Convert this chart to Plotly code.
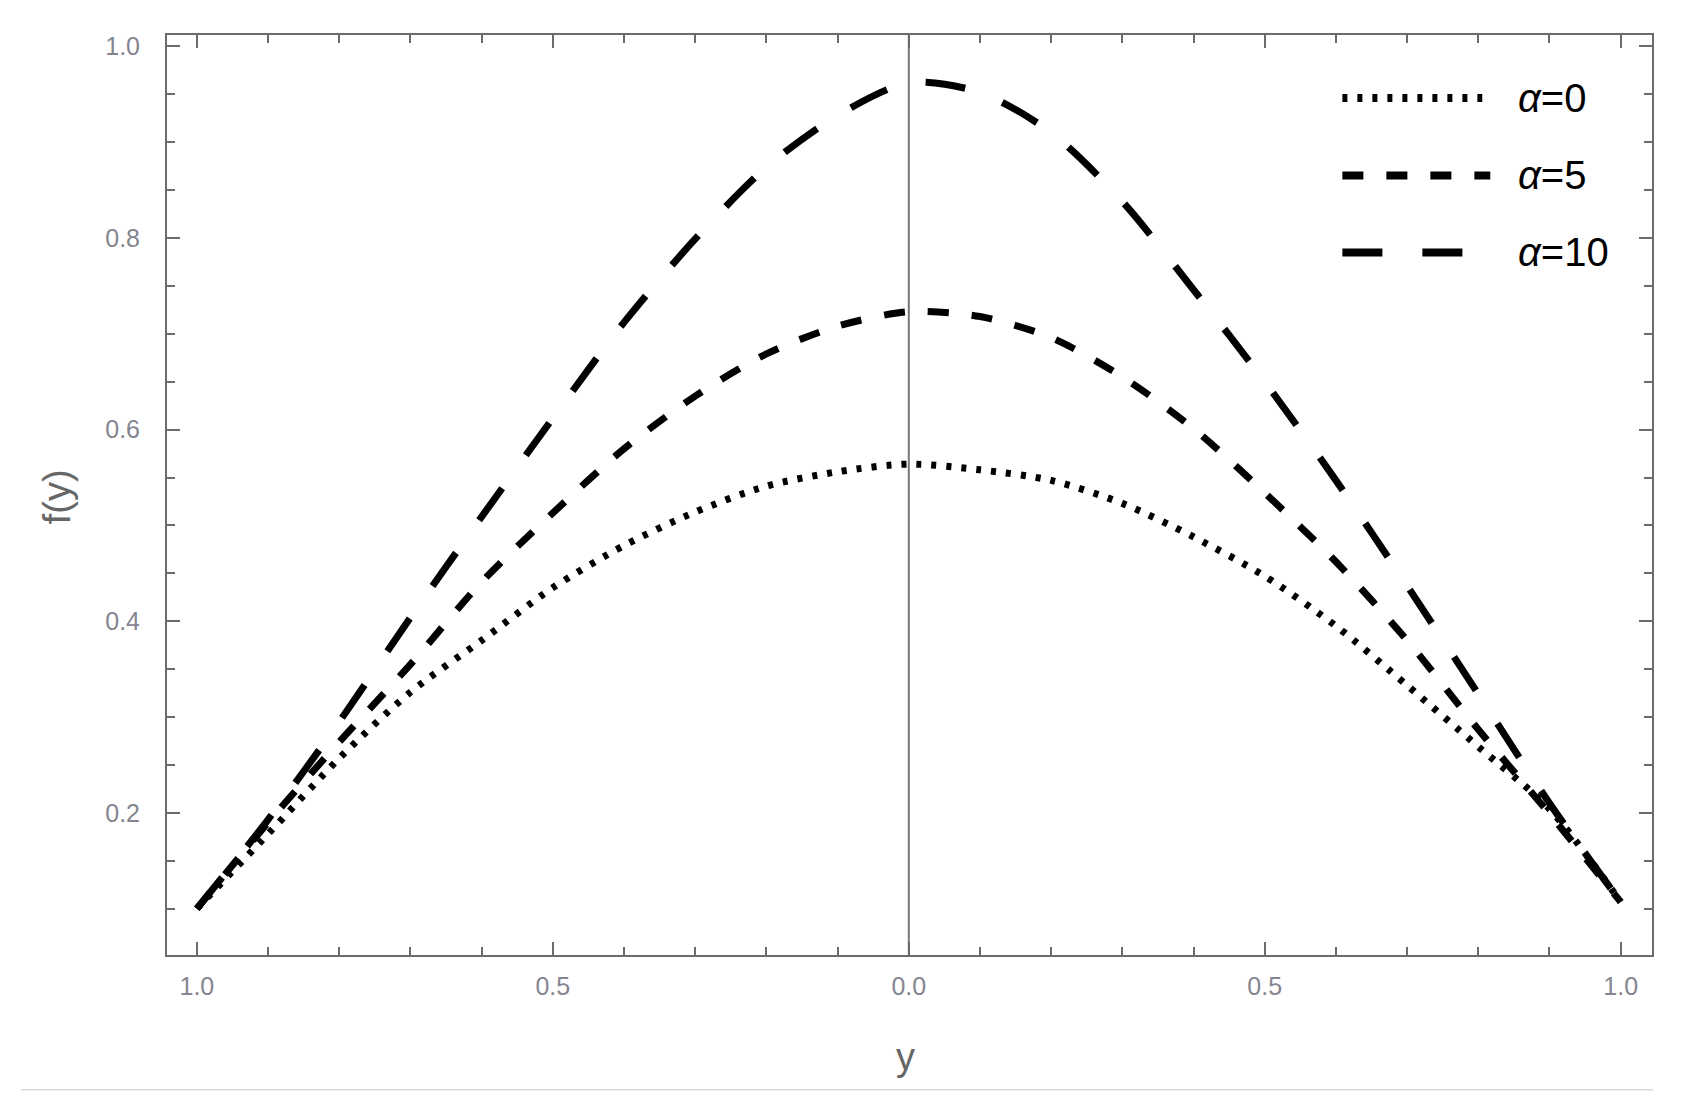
"""
f(y) profiles for three alpha values — Mathematica-style framed plot.
"""

import plotly.graph_objects as go

# --- data ---
Y_POS = [-1.0, -0.9, -0.8, -0.7, -0.6, -0.5, -0.4, -0.3, -0.2, -0.1,
         0.0, 0.1, 0.2, 0.3, 0.4, 0.5, 0.6, 0.7, 0.8, 0.9, 1.0]

F_ALPHA0 = [0.100, 0.178, 0.257, 0.326, 0.380, 0.435, 0.479, 0.514, 0.541, 0.556,
            0.564, 0.558, 0.547, 0.523, 0.488, 0.447, 0.395, 0.333, 0.269, 0.204, 0.107]
F_ALPHA5 = [0.100, 0.190, 0.274, 0.355, 0.441, 0.513, 0.580, 0.635, 0.679, 0.708,
            0.723, 0.718, 0.696, 0.655, 0.601, 0.534, 0.462, 0.380, 0.287, 0.199, 0.107]
F_ALPHA10 = [0.100, 0.193, 0.295, 0.404, 0.509, 0.612, 0.712, 0.799, 0.874, 0.928,
             0.962, 0.952, 0.910, 0.838, 0.746, 0.650, 0.547, 0.437, 0.324, 0.210, 0.107]

SERIES_LABELS = ["<i>α</i>=0", "<i>α</i>=5", "<i>α</i>=10"]

X_TICKS = [-1.0, -0.5, 0.0, 0.5, 1.0]
X_TICK_TEXT = ["1.0", "0.5", "0.0", "0.5", "1.0"]
Y_TICKS = [0.2, 0.4, 0.6, 0.8, 1.0]
Y_TICK_TEXT = ["0.2", "0.4", "0.6", "0.8", "1.0"]

# --- style ---
FRAME = "#6b6b6b"
TICK_TEXT = "#858590"
TITLE_TEXT = "#666666"
FONT = "Liberation Sans, Arial, sans-serif"
LINE_W = 7
DASHES = ["5px,10px", "21px,23px", "40px,40px"]

fig = go.Figure()

for vals, label, dash in zip((F_ALPHA0, F_ALPHA5, F_ALPHA10), SERIES_LABELS, DASHES):
    fig.add_trace(
        go.Scatter(
            x=Y_POS,
            y=vals,
            mode="lines",
            name=label,
            line=dict(color="black", width=LINE_W, dash=dash, shape="spline", smoothing=0.8),
            showlegend=False,
        )
    )

# vertical axis through x=0
fig.add_vline(x=0, line_color="#777777", line_width=2, layer="below")

axis_common = dict(
    showgrid=False,
    zeroline=False,
    showline=True,
    linecolor=FRAME,
    linewidth=2,
    mirror="allticks",
    ticks="inside",
    ticklen=13,
    tickwidth=2,
    tickcolor=FRAME,
    tickfont=dict(family=FONT, size=25, color=TICK_TEXT),
)

fig.update_xaxes(
    range=[-1.042, 1.044],
    tickvals=X_TICKS,
    ticktext=X_TICK_TEXT,
    ticklabelstandoff=8,
    minor=dict(dtick=0.1, tick0=0, ticks="inside", ticklen=8, tickwidth=2, tickcolor=FRAME),
    **axis_common,
)
fig.update_yaxes(
    range=[0.0516, 1.0119],
    tickvals=Y_TICKS,
    ticktext=Y_TICK_TEXT,
    ticklabelstandoff=20,
    minor=dict(dtick=0.05, tick0=0, ticks="inside", ticklen=8, tickwidth=2, tickcolor=FRAME),
    **axis_common,
)

# axis titles
fig.add_annotation(text="y", x=0.4973, y=-0.1105, xref="paper", yref="paper",
                   xanchor="center", yanchor="middle", showarrow=False,
                   font=dict(family=FONT, size=38, color=TITLE_TEXT))
fig.add_annotation(text="f(y)", x=-0.0745, y=0.498, xref="paper", yref="paper",
                   xanchor="center", yanchor="middle", showarrow=False, textangle=-90,
                   font=dict(family=FONT, size=38, color=TITLE_TEXT))

# hand-drawn legend (long line samples like the original)
legend_rows = [0.9315, 0.8474, 0.7637]
legend_ends = [0.8857, 0.8911, 0.8763]
for row_y, x_end, label, dash in zip(legend_rows, legend_ends, SERIES_LABELS, DASHES):
    fig.add_shape(type="line", xref="paper", yref="paper",
                  x0=0.7915, x1=x_end, y0=row_y, y1=row_y,
                  line=dict(color="black", width=LINE_W + 1, dash=dash))
    fig.add_annotation(text=label, x=0.9087, y=row_y, xref="paper", yref="paper",
                       xanchor="left", yanchor="middle", showarrow=False,
                       font=dict(family=FONT, size=40, color="black"))

# thin separator under the figure
fig.add_shape(type="line", xref="paper", yref="paper",
              x0=-0.0984, x1=1.0005, y0=-0.1464, y1=-0.1464,
              line=dict(color="#d9d9d9", width=1.5))

# page body adds an 8px margin, so the figure is 16px smaller than the window
fig.update_layout(
    width=1667,
    height=1101,
    paper_bgcolor="white",
    plot_bgcolor="white",
    margin=dict(l=159, r=23, t=27, b=154),
    showlegend=False,
)

fig.write_html("out.html")
